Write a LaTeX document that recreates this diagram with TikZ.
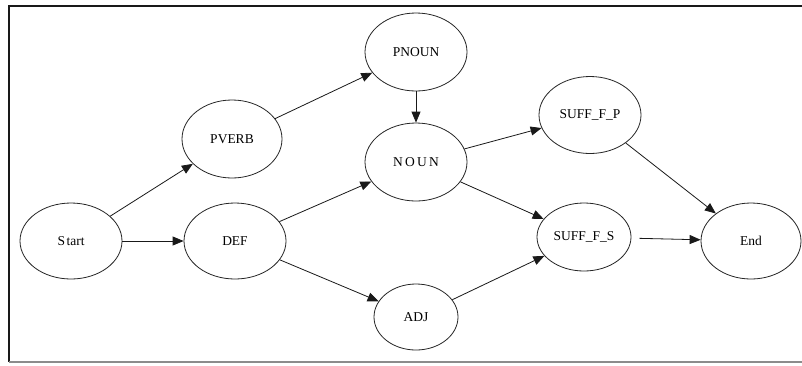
\documentclass[tikz,border=0pt]{standalone}
\usepackage{fontspec}
\setmainfont{Liberation Serif}
\usetikzlibrary{shapes.geometric,arrows.meta}
\tikzset{
  st/.style={ellipse,draw=black!85,line width=0.8pt,inner sep=0pt,
    font=\fontsize{13.5}{14}\selectfont},
  ar/.style={draw=black!90,line width=0.8pt,-{Triangle[length=11pt,width=9pt]}},
}
\newcommand{\zb}[1]{\makebox[0pt]{#1}}
\begin{document}
\begin{tikzpicture}[x=1pt,y=-1pt]
\useasboundingbox (0,0) rectangle (802,365);
\fill[white] (0,0) rectangle (802,365);
\draw[line width=2pt,black!90] (802,6) -- (9,6) -- (9,362);
\draw[line width=1.5pt,black!45] (9,362) -- (802,362);
\node[st,minimum width=102pt,minimum height=76pt] (start) at (71,241) {\zb{S\kern1.5pt tart}};
\node[st,minimum width=102pt,minimum height=76pt] (def) at (235,241) {\zb{DEF}};
\node[st,minimum width=100pt,minimum height=78pt] (pverb) at (232,139) {\zb{PVERB}};
\node[st,minimum width=102pt,minimum height=78pt] (pnoun) at (416,52) {\zb{PNOUN}};
\node[st,minimum width=102pt,minimum height=78pt] (noun) at (416,162) {\zb{N\,O\,U\,N}};
\node[st,minimum width=84pt,minimum height=66pt] (adj) at (416,317) {\zb{ADJ}};
\node[st,minimum width=102pt,minimum height=77pt] (sp) at (590,115) {\zb{SUFF\_F\_P}};
\node[st,minimum width=94pt,minimum height=68pt] (ss) at (584,237) {\zb{SUFF\_F\_S}};
\node[st,minimum width=100pt,minimum height=76pt] (end) at (751,241) {\zb{End}};
\draw[ar] (start) -- (pverb);
\draw[ar] (start) -- (def);
\draw[ar] (pverb) -- (pnoun);
\draw[ar] (pnoun) -- (noun);
\draw[ar] (def) -- (noun);
\draw[ar] (def) -- (adj);
\draw[ar] (noun) -- (sp);
\draw[ar] (noun) -- (ss);
\draw[ar] (adj) -- (ss);
\draw[ar] (sp) -- (end);
\draw[ar,shorten <=8pt] (ss) -- (end);
\end{tikzpicture}
\end{document}
